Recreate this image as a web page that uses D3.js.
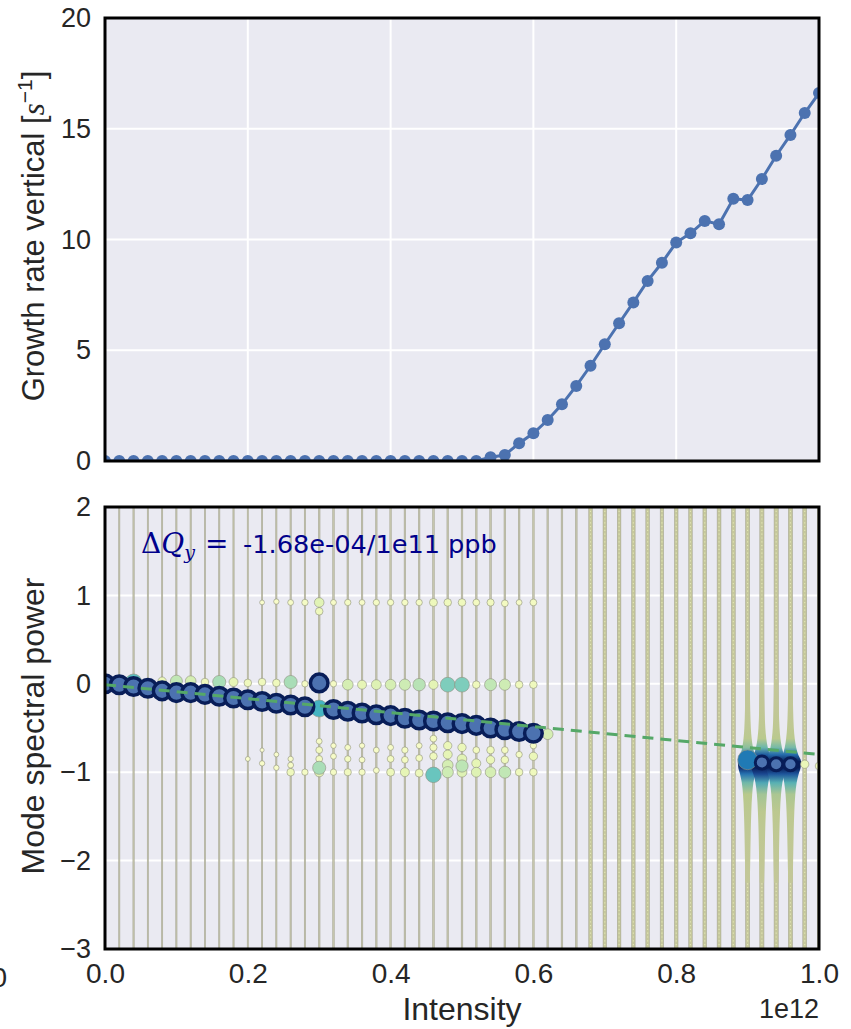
<!DOCTYPE html>
<html>
<head>
<meta charset="utf-8">
<script src="https://cdn.jsdelivr.net/npm/d3@7"></script>
<style>
  body { margin: 0; background: #fff; }
  svg { display: block; font-family: "Liberation Sans", Arial, sans-serif; }
</style>
</head>
<body>
<svg id="chart" width="851" height="1029"></svg>
<script>
// intensity in units of 1e12
const intensity = [0.00,0.02,0.04,0.06,0.08,0.10,0.12,0.14,0.16,0.18,0.20,0.22,0.24,0.26,0.28,0.30,0.32,0.34,0.36,0.38,0.40,
  0.42,0.44,0.46,0.48,0.50,0.52,0.54,0.56,0.58,0.60,0.62,0.64,0.66,0.68,0.70,0.72,0.74,0.76,0.78,0.80,
  0.82,0.84,0.86,0.88,0.90,0.92,0.94,0.96,0.98,1.00];

const growthRate = [0,0,0,0,0,0,0,0,0,0,0,0,0,0,0,0,0,0,0,0,0,0,0,0,0,0,0,
  0.17,0.27,0.80,1.25,1.85,2.56,3.39,4.30,5.27,6.22,7.16,8.13,8.95,9.86,
  10.28,10.84,10.69,11.84,11.78,12.73,13.78,14.72,15.71,16.61];

// main tune peak, intensities 0.00 .. 0.60
const mainTune = [0.00,-0.01,-0.03,-0.05,-0.08,-0.10,-0.10,-0.12,-0.14,-0.16,-0.18,-0.20,-0.22,-0.24,-0.26,
  0.01,-0.29,-0.31,-0.33,-0.35,-0.36,-0.39,-0.41,-0.42,-0.44,-0.45,-0.47,-0.50,-0.52,-0.54,-0.56];
const lateTune = [[0.92,-0.89],[0.94,-0.91],[0.96,-0.91]];

// background noise level of each spectrum column
const noiseLevel = [0.16,0.16,0.17,0.16,0.17,0.16,0.17,0.16,0.17,0.16,0.17,0.17,0.16,0.17,0.18,
  0.22,0.20,0.20,0.21,0.20,0.21,0.20,0.21,0.22,0.21,0.22,0.22,0.21,0.22,0.22,0.22,
  0.20,0.22,0.24,
  0.50,0.50,0.52,0.50,0.52,0.50,0.52,0.50,0.52,0.55,0.55,0.60,0.60,0.60,0.60,0.55,0.50];

// secondary peaks: [intensity, tune, amplitude]
const upperPeaks = [[0.04,0.02,0.45],[0.08,0.03,0.12],[0.10,0.03,0.25],[0.12,0.03,0.20],[0.14,0.02,0.10],
  [0.16,0.02,0.30],[0.18,0.02,0.14],[0.20,0.01,0.10],[0.22,0.02,0.10],[0.24,0.01,0.10],[0.26,0.02,0.30],
  [0.28,0.00,0.07],[0.32,0.00,0.07],[0.34,-0.01,0.20],[0.36,-0.01,0.14],[0.38,-0.01,0.17],[0.40,-0.01,0.20],
  [0.42,-0.01,0.22],[0.44,-0.01,0.27],[0.46,-0.01,0.15],[0.48,-0.01,0.38],[0.50,-0.01,0.38],[0.52,-0.01,0.10],
  [0.54,-0.01,0.25],[0.56,-0.01,0.22],[0.58,-0.01,0.10],[0.60,-0.01,0.10]];
const lowerPeaks = [[0.20,-0.85,0.04],[0.22,-0.90,0.05],[0.24,-0.95,0.05],[0.26,-1.00,0.10],[0.28,-1.00,0.07],
  [0.30,-1.00,0.15],[0.30,-0.95,0.30],[0.32,-1.00,0.07],[0.34,-1.00,0.09],[0.36,-1.00,0.07],[0.38,-0.98,0.06],
  [0.40,-1.00,0.11],[0.42,-1.00,0.14],[0.44,-1.01,0.11],[0.46,-1.03,0.42],[0.48,-1.00,0.22],[0.48,-0.92,0.20],
  [0.50,-1.00,0.17],[0.50,-0.93,0.26],[0.52,-1.00,0.17],[0.52,-0.90,0.14],[0.54,-1.00,0.20],[0.56,-1.00,0.25],
  [0.58,-1.00,0.10],[0.60,-1.00,0.10],[0.60,-0.82,0.12],[0.62,-0.57,0.20]];
const innerPeaks = [[0.30,-0.65,0.06],[0.30,-0.75,0.08],[0.30,-0.85,0.08],[0.32,-0.70,0.05],[0.32,-0.82,0.06],
  [0.34,-0.72,0.06],[0.34,-0.85,0.07],[0.36,-0.70,0.05],[0.36,-0.86,0.06],[0.38,-0.75,0.06],[0.40,-0.72,0.06],
  [0.40,-0.85,0.08],[0.42,-0.75,0.07],[0.42,-0.86,0.08],[0.44,-0.70,0.06],[0.44,-0.84,0.08],[0.46,-0.62,0.08],
  [0.46,-0.72,0.09],[0.46,-0.82,0.10],[0.48,-0.70,0.12],[0.48,-0.80,0.14],[0.50,-0.72,0.12],[0.50,-0.85,0.16],
  [0.52,-0.75,0.08],[0.54,-0.75,0.10],[0.54,-0.86,0.12],[0.56,-0.75,0.08],[0.56,-0.86,0.10],[0.58,-0.80,0.07],
  [0.60,-0.70,0.07],[0.22,-0.75,0.03],[0.24,-0.80,0.04],[0.26,-0.85,0.05],[0.26,-0.92,0.06]];
const outerPeaks = [[0.22,0.92,0.04],[0.24,0.93,0.05],[0.26,0.92,0.06],[0.28,0.92,0.07],[0.30,0.92,0.16],
  [0.30,0.82,0.10],[0.32,0.92,0.06],[0.34,0.92,0.07],[0.36,0.92,0.06],[0.38,0.92,0.07],[0.40,0.92,0.07],
  [0.42,0.92,0.07],[0.44,0.92,0.07],[0.46,0.92,0.11],[0.48,0.92,0.10],[0.50,0.92,0.10],[0.52,0.92,0.08],
  [0.54,0.92,0.09],[0.56,0.91,0.08],[0.58,0.92,0.06],[0.60,0.92,0.08],[0.98,-0.91,0.12],[1.00,-0.93,0.10]];
const strongPeaks = [[0.30,-0.28,0.50],[0.90,-0.86,0.68]];

// unstable region: spectra spread around the tune
const violinIntensity = [0.90,0.92,0.94,0.96];
const violinPeak = [0.85,1.00,0.95,0.95];
const violinTune = [0.05,-0.30,-0.50,-0.62,-0.72,-0.80,-0.88,-0.95,-1.02,-1.12,-1.25,-1.45,-1.70,-2.00,-2.25];
const violinAmp  = [0.00,0.06,0.14,0.25,0.42,0.66,1.00,0.95,0.72,0.48,0.32,0.20,0.12,0.06,0.00];

const fitLine = [[0.0,-0.01],[1.0,-0.80]];

const yTicksTop = [0,5,10,15,20];
const yTicksBottom = [-3,-2,-1,0,1,2];
const xTicks = [0,0.2,0.4,0.6,0.8,1.0];

const svg = d3.select("#chart");
const left = 105, right = 819;
const x = d3.scaleLinear().domain([0, 1]).range([left, right]);
const yTop = d3.scaleLinear().domain([0, 20]).range([461, 18]);
const yBot = d3.scaleLinear().domain([-3, 2]).range([949, 507]);

const blue = "#4c72b0", navy = "#081d58", textCol = "#262626";
const defs = svg.append("defs");

const panel = (id, y, yTicks) => {
  const [y1, y0] = y.range().slice().sort((a, b) => a - b);
  defs.append("clipPath").attr("id", id).append("rect")
    .attr("x", left).attr("y", y1).attr("width", right - left).attr("height", y0 - y1);
  const g = svg.append("g");
  g.append("rect").attr("x", left).attr("y", y1).attr("width", right - left).attr("height", y0 - y1)
    .attr("fill", "#eaeaf2");
  g.selectAll(".gx").data(xTicks).enter().append("line")
    .attr("x1", d => x(d)).attr("x2", d => x(d)).attr("y1", y1).attr("y2", y0)
    .attr("stroke", "#fff").attr("stroke-width", 2);
  g.selectAll(".gy").data(yTicks).enter().append("line")
    .attr("x1", left).attr("x2", right).attr("y1", d => y(d)).attr("y2", d => y(d))
    .attr("stroke", "#fff").attr("stroke-width", 2);
  const yAxis = svg.append("g").attr("transform", `translate(${left},0)`)
    .call(d3.axisLeft(y).tickValues(yTicks).tickSize(0).tickPadding(14).tickFormat(d3.format("d")));
  yAxis.select(".domain").remove();
  yAxis.selectAll("text").attr("font-size", 27).attr("fill", textCol).attr("font-family", null);
  return g.append("g").attr("clip-path", `url(#${id})`);
};

// ---- top panel: growth rate
const topG = panel("clipTop", yTop, yTicksTop);
const growth = intensity.map((d, i) => [d, growthRate[i]]);
topG.append("path").datum(growth)
  .attr("d", d3.line().x(d => x(d[0])).y(d => yTop(d[1])))
  .attr("fill", "none").attr("stroke", blue).attr("stroke-width", 3);
topG.selectAll("circle").data(growth).enter().append("circle")
  .attr("cx", d => x(d[0])).attr("cy", d => yTop(d[1])).attr("r", 6).attr("fill", blue);

// ---- bottom panel: mode spectra
const botG = panel("clipBot", yBot, yTicksBottom);
const colW = d3.scaleLinear().domain([0, 1]).range([0.2, 6.8]);
const rScale = d3.scaleSqrt().domain([0, 1]).range([0, 12]);
const colour = t => d3.interpolateYlGnBu(t);

botG.selectAll(".col").data(intensity).enter().append("rect")
  .attr("x", (d, i) => x(d) - colW(noiseLevel[i]) / 2).attr("y", 507)
  .attr("width", (d, i) => colW(noiseLevel[i])).attr("height", 442)
  .attr("fill", (d, i) => noiseLevel[i] > 0.4 ? "#c5c79c" : "#c6c6ae")
  .attr("stroke", "#a0a08c").attr("stroke-width", 0.5);
botG.selectAll(".bead").data(intensity.filter((d, i) => noiseLevel[i] > 0.4)).enter().append("line")
  .attr("x1", d => x(d)).attr("x2", d => x(d)).attr("y1", 507).attr("y2", 949)
  .attr("stroke", "#e3e7b6").attr("stroke-width", 1.1).attr("stroke-dasharray", "1.2,2.6");

// violins of the unstable spectra
const hw = d3.scaleLinear().domain([0, 1]).range([2.2, 11]);
const vColour = d3.scaleLinear().domain([0, 0.28, 0.45, 0.58, 0.74, 0.88])
  .range(["#c3c798", "#b8c98c", "#5ab3b3", "#2a7fba", "#183f8a", navy]).clamp(true);
const vProfile = violinTune.map((t, i) => ({q: t, a: violinAmp[i]}));
violinIntensity.forEach((I, k) => {
  const gid = "vg" + k;
  const ya = yBot(violinTune[0]), yb = yBot(violinTune[violinTune.length - 1]);
  const grad = defs.append("linearGradient").attr("id", gid).attr("gradientUnits", "userSpaceOnUse")
    .attr("x1", 0).attr("x2", 0).attr("y1", ya).attr("y2", yb);
  vProfile.forEach(p => grad.append("stop")
    .attr("offset", (yBot(p.q) - ya) / (yb - ya)).attr("stop-color", vColour(p.a * violinPeak[k])));
  botG.append("path").datum(vProfile)
    .attr("d", d3.area().curve(d3.curveMonotoneY).y(p => yBot(p.q))
      .x0(p => x(I) - hw(p.a * violinPeak[k])).x1(p => x(I) + hw(p.a * violinPeak[k])))
    .attr("fill", `url(#${gid})`);
});

// secondary peaks
const peaks = [].concat(innerPeaks, outerPeaks, upperPeaks, lowerPeaks, strongPeaks)
  .sort((a, b) => a[2] - b[2]);
botG.selectAll(".pk").data(peaks).enter().append("circle")
  .attr("cx", d => x(d[0])).attr("cy", d => yBot(d[1])).attr("r", d => rScale(d[2]))
  .attr("fill", d => colour(d[2])).attr("stroke", "#8f9080").attr("stroke-width", 0.6);

// main tune
const main = mainTune.map((q, i) => [intensity[i], q]);
botG.selectAll(".mt").data(main).enter().append("circle")
  .attr("cx", d => x(d[0])).attr("cy", d => yBot(d[1])).attr("r", 8.8)
  .attr("fill", blue).attr("stroke", navy).attr("stroke-width", 3.5);
botG.selectAll(".lt").data(lateTune).enter().append("circle")
  .attr("cx", d => x(d[0])).attr("cy", d => yBot(d[1])).attr("r", 6.6)
  .attr("fill", blue).attr("stroke", navy).attr("stroke-width", 3);

// linear fit
botG.append("path").datum(fitLine)
  .attr("d", d3.line().x(d => x(d[0])).y(d => yBot(d[1])))
  .attr("stroke", "#55a868").attr("stroke-width", 3).attr("stroke-dasharray", "11,7").attr("fill", "none");

// x axis
const xAxis = svg.append("g").attr("transform", "translate(0,949)")
  .call(d3.axisBottom(x).tickValues(xTicks).tickSize(0).tickPadding(14).tickFormat(d3.format(".1f")));
xAxis.select(".domain").remove();
xAxis.selectAll("text").attr("font-size", 28).attr("fill", textCol).attr("font-family", null);

// spines
[[18, 461], [507, 949]].forEach(([a, b]) => {
  svg.append("rect").attr("x", left).attr("y", a).attr("width", right - left).attr("height", b - a)
    .attr("fill", "none").attr("stroke", "#000").attr("stroke-width", 3);
});

// labels
const ylab1 = svg.append("text").attr("transform", "translate(44,236) rotate(-90)")
  .attr("text-anchor", "middle").attr("font-size", 31).attr("fill", textCol);
ylab1.append("tspan").text("Growth rate vertical [");
ylab1.append("tspan").attr("font-family", "Liberation Serif").attr("font-style", "italic").text("s");
ylab1.append("tspan").attr("font-size", 21).attr("dy", -12).text("\u22121");
ylab1.append("tspan").attr("dy", 12).text("]");

svg.append("text").attr("transform", "translate(44,726) rotate(-90)")
  .attr("text-anchor", "middle").attr("font-size", 32).attr("fill", textCol).text("Mode spectral power");

svg.append("text").attr("x", 462).attr("y", 1020).attr("text-anchor", "middle")
  .attr("font-size", 32).attr("fill", textCol).text("Intensity");
svg.append("text").attr("x", 819).attr("y", 1018).attr("text-anchor", "end")
  .attr("font-size", 27).attr("fill", textCol).text("1e12");
svg.append("text").attr("x", 7).attr("y", 987).attr("text-anchor", "end")
  .attr("font-size", 28).attr("fill", textCol).text("0");

// annotation
const ann = svg.append("text").attr("x", 141).attr("y", 553).attr("font-size", 28)
  .attr("fill", "#00008b").attr("font-family", "DejaVu Serif");
ann.append("tspan").text("\u0394");
ann.append("tspan").attr("font-style", "italic").text("Q");
ann.append("tspan").attr("font-style", "italic").attr("font-size", 19).attr("dy", 6).text("y");
ann.append("tspan").attr("x", 205).attr("dy", -6).text("=");
svg.append("text").attr("x", 243).attr("y", 553).attr("font-size", 25.6)
  .attr("fill", "#00008b").attr("font-family", "DejaVu Sans").text("-1.68e-04/1e11 ppb");
</script>
</body>
</html>
